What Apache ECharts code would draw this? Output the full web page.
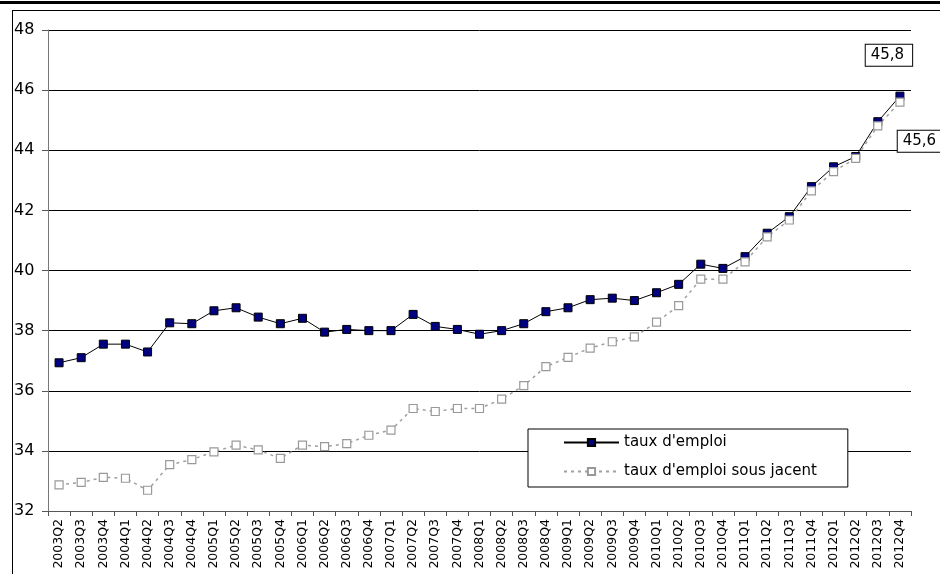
<!DOCTYPE html>
<html>
<head>
<meta charset="utf-8">
<script src="https://cdn.jsdelivr.net/npm/echarts@6/dist/echarts.min.js"></script>
<style>
  html, body { margin: 0; padding: 0; background: #fff; }
  #chart { width: 940px; height: 574px; }
</style>
</head>
<body>
<div id="chart"></div>
<script>
const quarters = [
  '2003Q2', '2003Q3', '2003Q4',
  '2004Q1', '2004Q2', '2004Q3', '2004Q4',
  '2005Q1', '2005Q2', '2005Q3', '2005Q4',
  '2006Q1', '2006Q2', '2006Q3', '2006Q4',
  '2007Q1', '2007Q2', '2007Q3', '2007Q4',
  '2008Q1', '2008Q2', '2008Q3', '2008Q4',
  '2009Q1', '2009Q2', '2009Q3', '2009Q4',
  '2010Q1', '2010Q2', '2010Q3', '2010Q4',
  '2011Q1', '2011Q2', '2011Q3', '2011Q4',
  '2012Q1', '2012Q2', '2012Q3', '2012Q4'
];
const tauxEmploi = [
  36.93, 37.10, 37.55,
  37.55, 37.29, 38.26, 38.23,
  38.66, 38.76, 38.45, 38.23,
  38.41, 37.95, 38.04, 38.00,
  38.00, 38.54, 38.14, 38.04,
  37.88, 38.00, 38.23, 38.63,
  38.76, 39.03, 39.08, 39.00,
  39.26, 39.54, 40.21, 40.07,
  40.46, 41.24, 41.79, 42.79,
  43.45, 43.79, 44.95, 45.8
];
const tauxSousJacent = [
  32.87, 32.95, 33.12,
  33.09, 32.69, 33.54, 33.71,
  33.97, 34.19, 34.03, 33.75,
  34.19, 34.14, 34.24, 34.52,
  34.69, 35.41, 35.31, 35.41,
  35.41, 35.72, 36.17, 36.80,
  37.11, 37.42, 37.63, 37.79,
  38.28, 38.83, 39.71, 39.71,
  40.29, 41.12, 41.68, 42.65,
  43.29, 43.73, 44.81, 45.6
];

const font = 'DejaVu Sans';
const chart = echarts.init(document.getElementById('chart'));

// étiquette encadrée sur le dernier point seulement
const withLastLabel = (arr, label) => arr.map((v, i) => i === arr.length - 1 ? { value: v, label } : v);
const boxLabel = {
  show: true,
  formatter: p => String(p.value).replace('.', ','),
  fontFamily: font,
  fontSize: 15,
  color: '#000',
  backgroundColor: '#fff',
  borderColor: '#000',
  borderWidth: 1,
  padding: [3, 8, 3, 5],
  distance: 0
};

chart.setOption({
  animation: false,
  textStyle: { fontFamily: font },
  grid: { left: 48, right: 29, top: 30, bottom: 63 },
  graphic: [
    { type: 'rect', shape: { x: 0, y: 1, width: 940, height: 3 }, style: { fill: '#000' } },
    { type: 'line', shape: { x1: 12, y1: 10.5, x2: 940, y2: 10.5 }, style: { stroke: '#000', lineWidth: 1 } },
    { type: 'line', shape: { x1: 12.5, y1: 10, x2: 12.5, y2: 574 }, style: { stroke: '#000', lineWidth: 1 } }
  ],
  legend: {
    orient: 'vertical',
    left: 528,
    top: 429,
    width: 321,
    padding: [6, 31, 8, 35],
    itemGap: 14,
    itemWidth: 55,
    itemHeight: 9,
    borderColor: '#000',
    borderWidth: 1,
    backgroundColor: '#fff',
    textStyle: { fontFamily: font, fontSize: 15, color: '#000', lineHeight: 15 },
    data: ["taux d'emploi", "taux d'emploi sous jacent"]
  },
  xAxis: {
    type: 'category',
    data: quarters,
    boundaryGap: true,
    axisLine: { lineStyle: { color: '#555', width: 1 } },
    axisTick: { show: true, length: 5, interval: 0, lineStyle: { color: '#555' } },
    axisLabel: { interval: 0, rotate: 90, fontSize: 12.5, color: '#000', margin: 8, fontFamily: font },
    splitLine: { show: false }
  },
  yAxis: {
    type: 'value',
    min: 32,
    max: 48,
    interval: 2,
    axisLine: { show: true, lineStyle: { color: '#777', width: 1 } },
    axisTick: { show: true, length: 6, lineStyle: { color: '#555' } },
    axisLabel: { fontSize: 16, color: '#000', align: 'left', margin: 34, fontFamily: font },
    splitLine: { lineStyle: { color: '#000', width: 1 } }
  },
  series: [
    {
      name: "taux d'emploi",
      type: 'line',
      data: withLastLabel(tauxEmploi, Object.assign({}, boxLabel, { position: 'top', offset: [-11, -26] })),
      symbol: 'rect',
      symbolSize: 8,
      lineStyle: { color: '#000', width: 1 },
      itemStyle: { color: '#000080', borderColor: '#000', borderWidth: 1 },
      label: { show: false }
    },
    {
      name: "taux d'emploi sous jacent",
      type: 'line',
      data: withLastLabel(tauxSousJacent, Object.assign({}, boxLabel, { position: 'bottom', offset: [21, 24] })),
      symbol: 'rect',
      symbolSize: 8,
      lineStyle: { color: '#a0a0a0', width: 1.5, type: [3, 4] },
      itemStyle: { color: '#fff', borderColor: '#999', borderWidth: 1.2 },
      label: { show: false }
    }
  ]
});
</script>
</body>
</html>
